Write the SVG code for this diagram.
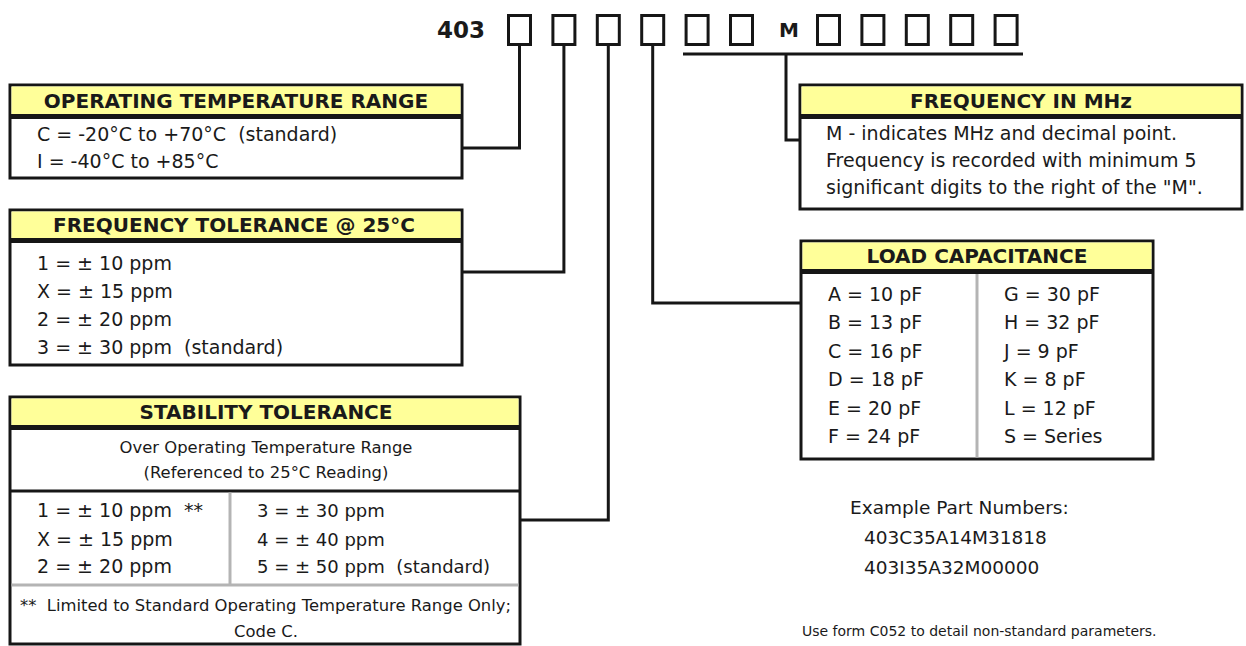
<svg xmlns="http://www.w3.org/2000/svg" width="1246" height="646" viewBox="0 0 1246 646">
<style>
  .frame{fill:#fff;stroke:#161616;stroke-width:3}
  .hdr{fill:#ffff99;stroke:none}
  .hline{stroke:#161616;stroke-width:5}
  .div{stroke:#161616;stroke-width:3}
  .gdiv{stroke:#b4b4b4;stroke-width:3}
  .slot{fill:none;stroke:#161616;stroke-width:3}
  .conn{fill:none;stroke:#161616;stroke-width:3;stroke-linejoin:miter}
  text{font-family:"DejaVu Sans","Liberation Sans",sans-serif;fill:#1a1a1a;white-space:pre}
  .h{font-weight:bold;font-size:20px;text-anchor:middle}
  .b{font-size:19px}
  .b18{font-size:18px}
  .s{font-size:16.4px}
  .c{text-anchor:middle}
  .note{font-size:14px}
</style>
<rect width="1246" height="646" fill="#fff"/>

<g id="part-code">
  <text x="437" y="38" style="font-weight:bold;font-size:23px">403</text>
  <rect class="slot" x="508.5" y="15.5" width="22" height="29"/>
  <rect class="slot" x="552.9" y="15.5" width="22" height="29"/>
  <rect class="slot" x="597.3" y="15.5" width="22" height="29"/>
  <rect class="slot" x="641.7" y="15.5" width="22" height="29"/>
  <rect class="slot" x="686.1" y="15.5" width="22" height="29"/>
  <rect class="slot" x="730.5" y="15.5" width="22" height="29"/>
  <text x="789" y="37" style="font-weight:bold;font-size:20px;text-anchor:middle">M</text>
  <rect class="slot" x="817.5" y="15.5" width="22" height="29"/>
  <rect class="slot" x="861.9" y="15.5" width="22" height="29"/>
  <rect class="slot" x="906.3" y="15.5" width="22" height="29"/>
  <rect class="slot" x="950.7" y="15.5" width="22" height="29"/>
  <rect class="slot" x="995.1" y="15.5" width="22" height="29"/>
</g>

<g id="connectors">
  <polyline class="conn" points="519.5,46 519.5,148 462,148"/>
  <polyline class="conn" points="563.9,46 563.9,272 462,272"/>
  <polyline class="conn" points="608.3,46 608.3,520 520,520"/>
  <polyline class="conn" points="652.7,46 652.7,303 801,303"/>
  <line class="conn" x1="683" y1="54" x2="1023" y2="54"/>
  <polyline class="conn" points="786,54 786,140 800,140"/>
</g>

<g id="operating-temperature">
  <rect class="frame" x="10" y="85" width="452" height="93"/>
  <rect class="hdr" x="11.5" y="86.5" width="449" height="29"/>
  <line class="hline" x1="10" y1="116.5" x2="462" y2="116.5"/>
  <text class="h" x="236" y="107.5">OPERATING TEMPERATURE RANGE</text>
  <text class="b" x="37" y="141">C = -20°C to +70°C  (standard)</text>
  <text class="b" x="37" y="168">I = -40°C to +85°C</text>
</g>

<g id="frequency-tolerance">
  <rect class="frame" x="10" y="210" width="452" height="155"/>
  <rect class="hdr" x="11.5" y="211.5" width="449" height="28"/>
  <line class="hline" x1="10" y1="240.5" x2="462" y2="240.5"/>
  <text class="h" x="234" y="232">FREQUENCY TOLERANCE @ 25°C</text>
  <text class="b" x="37" y="270">1 = ± 10 ppm</text>
  <text class="b" x="37" y="298">X = ± 15 ppm</text>
  <text class="b" x="37" y="326">2 = ± 20 ppm</text>
  <text class="b" x="37" y="354">3 = ± 30 ppm  (standard)</text>
</g>

<g id="stability-tolerance">
  <rect class="frame" x="10" y="397" width="510" height="247"/>
  <rect class="hdr" x="11.5" y="398.5" width="507" height="28"/>
  <line class="hline" x1="10" y1="427.5" x2="520" y2="427.5"/>
  <text class="h" x="266" y="419">STABILITY TOLERANCE</text>
  <text class="s c" x="266" y="453">Over Operating Temperature Range</text>
  <text class="s c" x="266" y="478">(Referenced to 25°C Reading)</text>
  <line class="div" x1="10" y1="491" x2="520" y2="491"/>
  <line class="gdiv" x1="230" y1="492.5" x2="230" y2="585"/>
  <line class="gdiv" x1="11.5" y1="585" x2="518.5" y2="585"/>
  <text class="b" x="37" y="517">1 = ± 10 ppm  **</text>
  <text class="b" x="37" y="546">X = ± 15 ppm</text>
  <text class="b" x="37" y="573">2 = ± 20 ppm</text>
  <text class="b18" x="257" y="517">3 = ± 30 ppm</text>
  <text class="b18" x="257" y="546">4 = ± 40 ppm</text>
  <text class="b18" x="257" y="573">5 = ± 50 ppm  (standard)</text>
  <text class="s" x="20" y="611">**  Limited to Standard Operating Temperature Range Only;</text>
  <text class="s c" x="266" y="637">Code C.</text>
</g>

<g id="frequency-mhz">
  <rect class="frame" x="800" y="85" width="442" height="124"/>
  <rect class="hdr" x="801.5" y="86.5" width="439" height="29"/>
  <line class="hline" x1="800" y1="116.5" x2="1242" y2="116.5"/>
  <text class="h" x="1021" y="107.5">FREQUENCY IN MHz</text>
  <text class="b" x="826" y="140">M - indicates MHz and decimal point.</text>
  <text class="b" x="826" y="167">Frequency is recorded with minimum 5</text>
  <text class="b" x="826" y="194">significant digits to the right of the "M".</text>
</g>

<g id="load-capacitance">
  <rect class="frame" x="801" y="241" width="352" height="218"/>
  <rect class="hdr" x="802.5" y="242.5" width="349" height="27"/>
  <line class="hline" x1="801" y1="271.5" x2="1153" y2="271.5"/>
  <text class="h" x="977" y="263">LOAD CAPACITANCE</text>
  <line class="gdiv" x1="977" y1="274" x2="977" y2="457.5"/>
  <text class="b" x="828" y="301">A = 10 pF</text>
  <text class="b" x="828" y="329.4">B = 13 pF</text>
  <text class="b" x="828" y="357.8">C = 16 pF</text>
  <text class="b" x="828" y="386.2">D = 18 pF</text>
  <text class="b" x="828" y="414.6">E = 20 pF</text>
  <text class="b" x="828" y="443">F = 24 pF</text>
  <text class="b" x="1004" y="301">G = 30 pF</text>
  <text class="b" x="1004" y="329.4">H = 32 pF</text>
  <text class="b" x="1004" y="357.8">J = 9 pF</text>
  <text class="b" x="1004" y="386.2">K = 8 pF</text>
  <text class="b" x="1004" y="414.6">L = 12 pF</text>
  <text class="b" x="1004" y="443">S = Series</text>
</g>

<g id="examples">
  <text class="b" x="850" y="514" style="font-size:18.5px">Example Part Numbers:</text>
  <text class="b" x="864" y="544" style="font-size:18.5px">403C35A14M31818</text>
  <text class="b" x="864" y="574" style="font-size:18.5px">403I35A32M00000</text>
  <text class="note" x="802" y="636">Use form C052 to detail non-standard parameters.</text>
</g>
</svg>
